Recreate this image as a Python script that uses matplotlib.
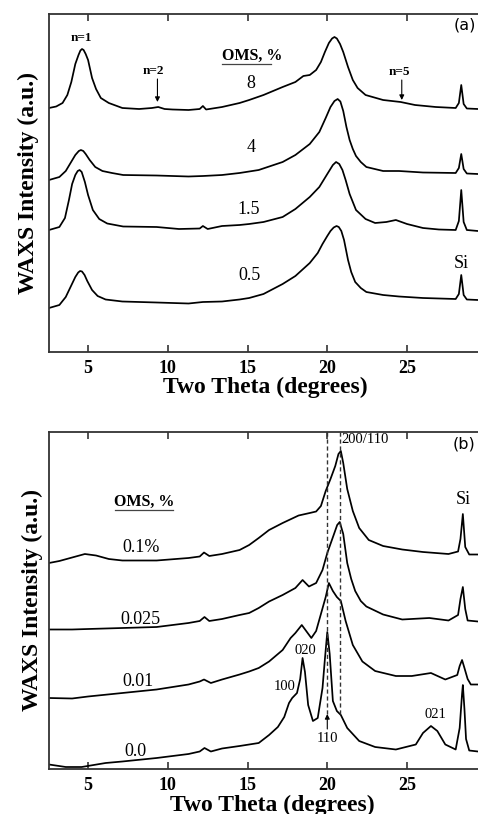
import matplotlib
matplotlib.use("Agg")
import matplotlib.pyplot as plt

SERIF = ["Liberation Serif", "DejaVu Serif"]

# ---------------- data: panel (a) ----------------
a_x_8 = [2.55, 3.0, 3.4, 3.7, 3.95, 4.2, 4.4, 4.52, 4.62, 4.72, 4.85, 5.0, 5.25, 5.5, 5.8, 6.3, 7.15, 8.2, 9.0,
         9.4, 9.8, 10.3, 11.3, 12.0, 12.2, 12.4, 13.4, 14.5, 15.1, 16.0, 17.2, 18.0, 18.5, 18.9, 19.3, 19.6,
         19.85, 20.1, 20.3, 20.45, 20.6, 20.8, 21.0, 21.3, 21.6, 21.9, 22.4, 23.5, 24.6, 25.5, 26.8, 28.05,
         28.25, 28.4, 28.55, 28.75, 29.45]
a_y_8 = [244, 245.5, 249, 257, 270, 288, 297, 301.5, 303, 302, 298, 292, 274, 263, 254, 249, 244, 243, 244,
         245, 243, 242.5, 242, 243, 246, 242.5, 245, 249, 252, 257, 265, 270, 276, 277, 282, 290,
         300, 309, 313.5, 315, 313.5, 308, 300, 285, 272, 264, 257, 252, 250, 247, 245, 244,
         249, 267, 248, 243.5, 243]

a_x_4 = [2.55, 3.2, 3.6, 3.9, 4.2, 4.42, 4.55, 4.7, 4.85, 5.1, 5.45, 5.9, 6.5, 7.2, 9.3, 11.3, 12.2, 13.4, 14.5,
         15.7, 17.2, 18.0, 18.9, 19.5, 19.9, 20.2, 20.45, 20.65, 20.82, 21.0, 21.2, 21.4, 21.6, 21.8, 22.1,
         22.45, 23.5, 24.5, 26.0, 28.05, 28.25, 28.4, 28.55, 28.75, 29.45]
a_y_4 = [172, 175, 181, 189, 197, 201, 202, 201, 198, 192, 185, 181, 179, 177, 176.5, 175.5, 176, 177, 179,
         182, 190, 197, 208, 220, 234, 245, 251, 253, 250.5, 241, 225, 212, 203, 196, 190,
         185, 181, 181, 179.5, 179, 184, 198, 183, 178.5, 178]

a_x_15 = [2.55, 3.2, 3.55, 3.8, 4.0, 4.2, 4.35, 4.47, 4.6, 4.8, 5.0, 5.3, 5.7, 6.2, 7.2, 9.3, 10.7, 12.0, 12.2,
          12.5, 13.4, 14.5, 15.1, 16.0, 17.2, 18.0, 18.9, 19.5, 20.0, 20.35, 20.55, 20.75, 20.95, 21.15, 21.4,
          21.8, 22.4, 23.0, 23.7, 24.3, 25.0, 26.0, 27.0, 28.05, 28.25, 28.4, 28.55, 28.75, 29.45]
a_y_15 = [122, 125, 134, 152, 168, 177, 181, 182, 180, 170, 157, 142, 133, 128.5, 125.5, 125, 123, 123.5, 126,
          123, 126, 127, 128, 130, 135, 143, 155, 165, 178, 187, 190, 188, 182, 172, 158,
          142, 133, 129, 130, 132, 128, 124, 122.5, 122, 131, 162, 130, 122, 121]

a_x_05 = [2.55, 3.2, 3.6, 3.9, 4.2, 4.38, 4.5, 4.62, 4.78, 4.95, 5.25, 5.6, 6.1, 7.15, 9.3, 11.3, 12.2, 13.4,
          14.5, 15.1, 16.0, 17.2, 18.0, 18.9, 19.4, 19.7, 20.0, 20.2, 20.4, 20.58, 20.72, 20.88, 21.05, 21.3,
          21.5, 21.75, 22.1, 22.45, 23.5, 24.5, 26.0, 28.05, 28.25, 28.4, 28.55, 28.75, 29.45]
a_y_05 = [44, 47, 55, 65, 75, 79.5, 81, 80.5, 77, 71, 62, 56, 52.5, 50.5, 49.5, 48.5, 50, 50.5,
          52.5, 54, 58, 68, 76, 89, 99, 108, 116, 121, 124.5, 126, 125, 121, 112, 92,
          80, 70, 64, 60, 57, 55.5, 54, 53, 58, 77, 57, 52.5, 52]

a_labels = ["8", "4", "1.5", "0.5"]

# ---------------- data: panel (b) ----------------
b_x_01 = [2.55, 3.2, 4.0, 4.8, 5.5, 6.3, 7.15, 9.3, 11.3, 12.0, 12.27, 12.6, 13.4, 14.5, 15.1, 15.7, 16.35,
          17.2, 18.2, 18.9, 19.3, 19.6, 19.9, 20.2, 20.5, 20.7, 20.85, 21.0, 21.25, 21.6, 22.0, 22.6, 23.5,
          24.7, 26.0, 27.6, 28.2, 28.35, 28.5, 28.65, 28.9, 29.45]
b_y_01 = [206, 208, 211.5, 215, 213.5, 210, 208.5, 208.5, 211, 212.5, 216.5, 213, 215, 219, 224, 231, 239,
          246, 253.5, 256, 257.5, 263, 278, 290, 303, 315, 318, 306, 280, 258, 241, 229, 223,
          219.5, 217, 215, 217.5, 230, 255, 222, 214.5, 214.5]

b_x_0025 = [2.55, 4.0, 5.0, 7.15, 9.3, 11.3, 12.0, 12.3, 12.6, 13.4, 14.5, 15.1, 15.7, 16.35, 17.2, 18.0,
            18.45, 18.85, 19.3, 19.7, 20.0, 20.4, 20.62, 20.78, 21.0, 21.25, 21.5, 21.75, 22.1, 22.45, 23.5,
            24.7, 26.4, 27.6, 28.2, 28.35, 28.5, 28.65, 28.8, 29.45]
b_y_0025 = [139.5, 139.5, 140, 141, 142, 146, 148, 152, 148, 150, 154, 156, 161, 167.5, 174, 181,
            189, 182.5, 186, 199, 216, 234, 244, 247, 235, 206, 190, 178, 168, 162.5, 154.5,
            149.5, 151, 148.5, 154, 170, 182, 160, 148.5, 147.5]

b_x_001 = [2.55, 4.0, 5.0, 7.15, 9.3, 11.3, 12.0, 12.27, 12.7, 13.4, 14.5, 15.1, 15.7, 16.35, 17.2, 17.7,
           18.0, 18.4, 18.7, 19.0, 19.3, 19.6, 19.9, 20.1, 20.35, 20.6, 20.85, 21.15, 21.6, 22.2, 23.0,
           24.3, 25.3, 26.5, 27.4, 28.15, 28.3, 28.45, 28.6, 28.8, 29.0, 29.45]
b_y_001 = [71, 70.5, 72.5, 76, 79.5, 84.5, 87.5, 89.5, 86, 89.5, 94.5, 97.5, 101, 107.5, 119, 131,
           136, 144, 137.5, 131, 138, 155, 172, 186, 178, 172, 168, 148, 124, 107.5, 98,
           93, 93, 96, 89.5, 94, 103, 109, 101, 90, 84.5, 84.5]

b_x_00 = [2.55, 3.6, 4.6, 6.1, 7.15, 9.3, 11.3, 12.0, 12.3, 12.7, 13.4, 14.5, 15.1, 15.7, 16.35, 16.9, 17.3,
          17.6, 17.8, 18.1, 18.3, 18.45, 18.6, 18.8, 19.1, 19.4, 19.7, 19.85, 20.0, 20.15, 20.35, 20.6,
          20.85, 21.25, 22.0, 23.0, 24.3, 25.55, 26.0, 26.5, 26.9, 27.4, 28.05, 28.3, 28.45, 28.5, 28.6,
          28.7, 28.9, 29.45]
b_y_00 = [4.5, 2, 2, 6, 7.5, 11, 15, 17.5, 21, 17.5, 20.5, 23, 24.5, 26, 34, 42, 52,
          66, 71, 76, 90, 111, 97, 64, 48, 51, 81, 110, 137, 115, 68, 58,
          54, 41, 28, 22, 19.5, 24.5, 36, 43, 38, 24.5, 19.5, 41, 75, 84, 60,
          30, 18.5, 17.5]

b_labels = ["0.1%", "0.025", "0.01", "0.0"]
b_dashed = [20.0, 20.8]

xticks = [5, 10, 15, 20, 25]

# ---------------- figure ----------------
W, H = 478, 814
fig = plt.figure(figsize=(W / 100, H / 100), dpi=100)
fig.patch.set_facecolor("white")


def make_axes(top_px, bottom_px):
    return fig.add_axes([49 / W, 1 - bottom_px / H, (W - 49) / W, (bottom_px - top_px) / H])


def style(ax, ymax):
    ax.set_xlim(2.55, 29.45)
    ax.set_ylim(0, ymax)
    ax.set_yticks([])
    ax.set_xticks(xticks)
    ax.tick_params(axis="x", direction="in", top=True, bottom=True, length=5, width=1.1,
                   pad=6, labelsize=13, colors="#222222")
    for lab in ax.get_xticklabels():
        lab.set_fontfamily(SERIF)
        lab.set_fontweight("bold")
        lab.set_color("black")
    for s in ["left", "top", "bottom"]:
        ax.spines[s].set_linewidth(1.3)
        ax.spines[s].set_color("#333333")
    ax.spines["right"].set_visible(False)


lw = 1.25
# ---------- panel (a) ----------
axa = make_axes(14, 352)
style(axa, 338)
for xs, ys in [(a_x_8, a_y_8), (a_x_4, a_y_4), (a_x_15, a_y_15), (a_x_05, a_y_05)]:
    axa.plot(xs, ys, color="black", lw=lw, solid_joinstyle="round")

lab_pos_a = [(15.2, 269), (15.2, 205), (15.1, 142), (15.1, 77)]
for t, (x, y) in zip(a_labels, lab_pos_a):
    axa.text(x, y, t, ha="center", va="center", fontsize=13, family=SERIF)
axa.text(15.3, 296, "OMS, %", ha="center", va="center", fontsize=11.5, family=SERIF, fontweight="bold")
axa.plot([13.4, 16.5], [288, 288], color="#444444", lw=0.9)
axa.text(4.6, 314, "n=1", ha="center", va="center", fontsize=9.5, family=SERIF, fontweight="bold")
axa.text(9.1, 281, "n=2", ha="center", va="center", fontsize=9.5, family=SERIF, fontweight="bold")
axa.text(24.5, 280, "n=5", ha="center", va="center", fontsize=9.5, family=SERIF, fontweight="bold")
arrow = dict(arrowstyle="-|>", lw=0.8, color="black", mutation_scale=7, shrinkA=0, shrinkB=0)
axa.annotate("", xy=(9.35, 250), xytext=(9.35, 273), arrowprops=arrow)
axa.annotate("", xy=(24.67, 252), xytext=(24.67, 272), arrowprops=arrow)
axa.text(28.4, 89, "Si", ha="center", va="center", fontsize=13, family=SERIF)
axa.text(28.6, 327, "(a)", ha="center", va="center", fontsize=11.5, family="DejaVu Sans")

# ---------- panel (b) ----------
axb = make_axes(432, 769)
style(axb, 337)
for xs, ys in [(b_x_01, b_y_01), (b_x_0025, b_y_0025), (b_x_001, b_y_001), (b_x_00, b_y_00)]:
    axb.plot(xs, ys, color="black", lw=lw, solid_joinstyle="round")
for xd in b_dashed:
    axb.plot([xd, xd], [55, 337], color="#333333", lw=1.0, ls=(0, (3, 2)))

lab_pos_b = [(8.3, 221), (8.3, 149), (8.1, 87), (8.0, 17)]
for t, (x, y) in zip(b_labels, lab_pos_b):
    axb.text(x, y, t, ha="center", va="center", fontsize=13, family=SERIF)
axb.text(8.5, 267, "OMS, %", ha="center", va="center", fontsize=11.5, family=SERIF, fontweight="bold")
axb.plot([6.7, 10.3], [259, 259], color="#444444", lw=0.9)
axb.text(20.9, 329, "200/110", ha="left", va="center", fontsize=10.5, family=SERIF)
axb.text(28.5, 269, "Si", ha="center", va="center", fontsize=13, family=SERIF)
axb.text(28.6, 325, "(b)", ha="center", va="center", fontsize=11.5, family="DejaVu Sans")
axb.text(18.6, 119, "020", ha="center", va="center", fontsize=10.5, family=SERIF)
axb.text(17.3, 82, "100", ha="center", va="center", fontsize=10.5, family=SERIF)
axb.text(26.8, 54, "021", ha="center", va="center", fontsize=10.5, family=SERIF)
axb.text(20.0, 30, "110", ha="center", va="center", fontsize=10.5, family=SERIF)
axb.annotate("", xy=(20.0, 55), xytext=(20.0, 40), arrowprops=arrow)

# ---------- axis labels ----------
fig.text(28 / W, 1 - 183 / H, "WAXS Intensity (a.u.)", rotation=90, ha="center", va="center",
         fontsize=17, family=SERIF, fontweight="bold")
fig.text(32 / W, 1 - 600 / H, "WAXS Intensity (a.u.)", rotation=90, ha="center", va="center",
         fontsize=17, family=SERIF, fontweight="bold")
fig.text(265 / W, 1 - 387 / H, "Two Theta (degrees)", ha="center", va="center",
         fontsize=17, family=SERIF, fontweight="bold")
fig.text(272 / W, 1 - 805 / H, "Two Theta (degrees)", ha="center", va="center",
         fontsize=17, family=SERIF, fontweight="bold")

fig.savefig("out.png", dpi=100, facecolor="white")
